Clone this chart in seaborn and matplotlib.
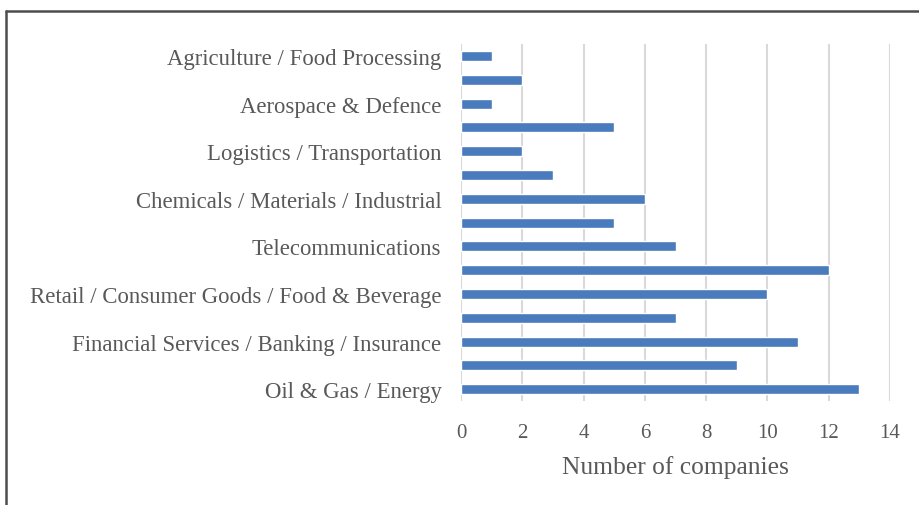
import matplotlib
matplotlib.use("Agg")
import matplotlib.pyplot as plt
import seaborn as sns
import pandas as pd
from matplotlib.lines import Line2D

# Data (top to bottom); every other category label is hidden in the original
categories = ["Agriculture / Food Processing", "cat2", "Aerospace & Defence", "cat4",
              "Logistics / Transportation", "cat6", "Chemicals / Materials / Industrial", "cat8",
              "Telecommunications", "cat10", "Retail / Consumer Goods / Food & Beverage", "cat12",
              "Financial Services / Banking / Insurance", "cat14", "Oil & Gas / Energy"]
tick_labels = ["Agriculture / Food Processing", "", "Aerospace & Defence", "",
               "Logistics / Transportation", "", "Chemicals / Materials / Industrial", "",
               "Telecommunications", "", "Retail / Consumer Goods / Food & Beverage", "",
               "Financial Services / Banking / Insurance", "", "Oil & Gas / Energy"]
values = [1, 2, 1, 5, 2, 3, 6, 5, 7, 12, 10, 7, 11, 9, 13]
x_ticks = [0, 2, 4, 6, 8, 10, 12, 14]

sns.set_theme(style="white")
plt.rcParams["font.family"] = ["Liberation Serif", "DejaVu Serif"]

df = pd.DataFrame({"category": categories, "value": values})

fig = plt.figure(figsize=(9.19, 5.06), dpi=100)
ax = fig.add_axes([0.5016, 0.2055, 0.4669, 0.7055])

sns.barplot(data=df, y="category", x="value", order=categories, color="#4a7bbd",
            saturation=1, width=0.42, ax=ax, orient="h")

ax.set_xlim(0, 14)
ax.set_xticks(x_ticks)
ax.set_xticklabels([str(t) for t in x_ticks], fontsize=15, color="#595959")
ax.set_yticks(range(len(categories)))
ax.set_yticklabels(tick_labels, fontsize=16.4, color="#595959")
ax.set_ylabel("")
ax.set_xlabel("Number of companies", fontsize=18.4, color="#595959", labelpad=9)
ax.tick_params(axis="x", length=0, pad=16)
ax.tick_params(axis="y", length=0, pad=14)
ax.grid(axis="x", color="#d9d9d9", linewidth=1.5)
ax.set_axisbelow(True)
for s in ax.spines.values():
    s.set_visible(False)

# partial frame of the original figure
fig.add_artist(Line2D([6/919, 1.0], [1 - 12/506, 1 - 12/506], transform=fig.transFigure,
                      color="#4d4d4d", linewidth=1.8))
fig.add_artist(Line2D([6/919, 6/919], [0.0, 1 - 12/506], transform=fig.transFigure,
                      color="#4d4d4d", linewidth=1.8))

fig.savefig("out.png", dpi=100)
